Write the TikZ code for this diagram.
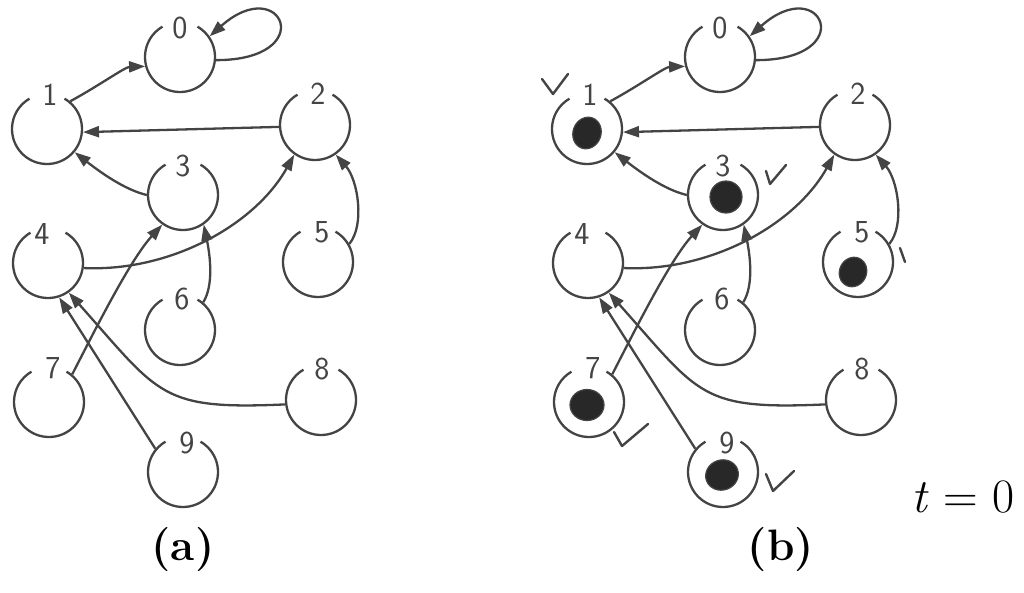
\documentclass[tikz,border=0pt]{standalone}
\usetikzlibrary{arrows.meta,shapes.geometric}
\definecolor{ink}{RGB}{68,68,68}
\definecolor{blob}{RGB}{40,40,40}
\begin{document}
\begin{tikzpicture}[x=1pt,y=-1pt,
  st/.style={circle, minimum size=70pt, inner sep=0pt, draw=ink, line width=2.3pt,
    dash pattern=on 183.26pt off 36.65pt, dash phase=146.61pt},
  lbl/.style={font=\sffamily\fontsize{32}{32}\selectfont, text=ink, inner sep=0pt},
  edge/.style={draw=ink, line width=2.3pt, -{Triangle[length=16pt,width=11pt]}},
  dotst/.style={ellipse, fill=blob, draw=ink, line width=1.2pt, inner sep=0pt},
  chk/.style={draw=ink, line width=2.4pt, line cap=round, line join=round},
  captxt/.style={font=\fontsize{44}{44}\selectfont\bfseries, inner sep=0pt}]
\useasboundingbox (0,0) rectangle (1024,592);
\foreach \p/\dx in {a/0,b/540}{
\begin{scope}[xshift=\dx pt]
  \node[st] (\p0) at (180,57) {};
  \node[st] (\p1) at (47,129) {};
  \node[st] (\p2) at (315,125) {};
  \node[st] (\p3) at (183,195) {};
  \node[st] (\p4) at (48,263) {};
  \node[st] (\p5) at (318,262) {};
  \node[st] (\p6) at (180,330) {};
  \node[st] (\p7) at (49,402) {};
  \node[st] (\p8) at (321,400) {};
  \node[st] (\p9) at (183,472) {};
  \node[lbl] (\p l0) at (180,28) {0};
  \node[lbl] (\p l1) at (50,95) {1};
  \node[lbl] (\p l2) at (318,94) {2};
  \node[lbl] (\p l3) at (183,166) {3};
  \node[lbl] (\p l4) at (42,234) {4};
  \node[lbl] (\p l5) at (322,232) {5};
  \node[lbl] (\p l6) at (182,299) {6};
  \node[lbl] (\p l7) at (53,368) {7};
  \node[lbl] (\p l8) at (322,369) {8};
  \node[lbl] (\p l9) at (187,443) {9};
  \draw[edge] (\p1.50) .. controls (100,85) and (125,67) .. (\p0.195);
  \draw[edge] (\p0.-5) .. controls (320,60) and (282,-28) .. (\p0.35);
  \draw[edge] (\p2.183) -- (\p1.-5);
  \draw[edge] (\p3.180) .. controls (125,190) and (100,172) .. (\p1.-40);
  \draw[edge] (\p4.-8) .. controls (170,272) and (255,225) .. (\p2.235);
  \draw[edge] (\p5.30) .. controls (365,225) and (358,180) .. (\p2.-55);
  \draw[edge] (\p6.50) .. controls (214,285) and (210,255) .. (\p3.-55);
  \draw[edge] (\p7.50) .. controls (95,330) and (130,260) .. (\p3.235);
  \draw[edge] (\p8.187) .. controls (160,410) and (160,395) .. (\p4.-55);
  \draw[edge] (\p9.140) -- (\p4.-72);
\end{scope}
}
% marked nodes in (b)
\node[dotst, minimum width=28pt, minimum height=32pt, rotate=-20] (d1) at (587,133) {};
\node[dotst, minimum width=32pt, minimum height=32pt] (d3) at (726,197) {};
\node[dotst, minimum width=27pt, minimum height=30pt, rotate=-25] (d5) at (853,272) {};
\node[dotst, minimum width=34pt, minimum height=31pt] (d7) at (587,405) {};
\node[dotst, minimum width=33pt, minimum height=30pt, rotate=20] (d9) at (722,475) {};
\draw[chk] (542,79) -- (553,94) -- (568,74);
\draw[chk] (766,171) -- (770,184) -- (786,165);
\draw[chk] (900,248) -- (905,262);
\draw[chk] (614,432) -- (622,446) -- (648,424);
\draw[chk] (766,474) -- (773,491) -- (794,471);
% captions
\node[captxt] (capa) at (183,550) {(a)};
\node[captxt] (capb) at (781,550) {(b)};
\node[font=\fontsize{48}{48}\selectfont, inner sep=0pt] (tlbl) at (963,497) {\textit{t}\hspace{0.3em}=\hspace{0.3em}0};
\end{tikzpicture}
\end{document}
